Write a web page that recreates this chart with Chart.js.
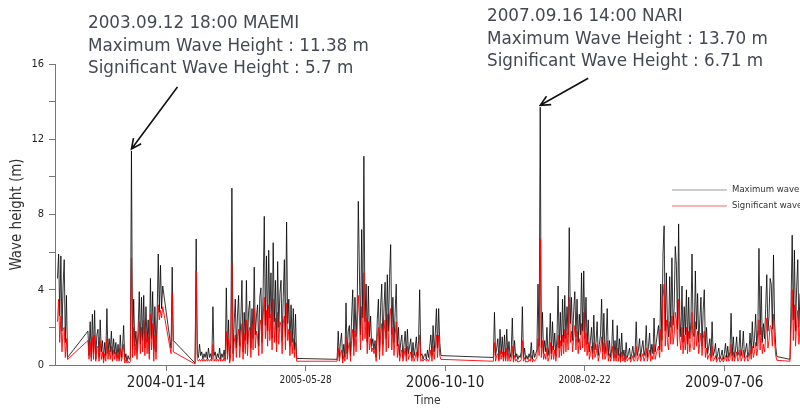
<!DOCTYPE html>
<html>
<head>
<meta charset="utf-8">
<script src="https://cdn.jsdelivr.net/npm/chart.js@4.4.1/dist/chart.umd.min.js"></script>
<style>
  html, body { margin: 0; padding: 0; background: #fff; }
  #wrap { position: relative; width: 800px; height: 408px; }
  .note {
    position: absolute;
    font-family: 'DejaVu Sans', sans-serif;
    font-size: 16.8px;
    line-height: 22.5px;
    color: #444852;
    white-space: nowrap;
  }
</style>
</head>
<body>
<div id="wrap">
  <canvas id="waveChart"></canvas>
  <div class="note" id="note0" style="left:88px; top:11px"></div>
  <div class="note" id="note1" style="left:487px; top:4px"></div>
</div>
<script>
// time axis range and labelled ticks
const axisStart = '2002-12-12';
const axisEnd = '2010-04-04';
const tickLabels = ['2004-01-14', '2005-05-28', '2006-10-10', '2008-02-22', '2009-07-06'];

// records come in blocks sampled every 4 days; each block starts on its own date
const stepDays = 4;
const segmentStarts = ['2002-12-21', '2003-04-09', '2004-02-01', '2004-04-27', '2005-09-18', '2007-04-01', '2010-02-27'];

// maximum wave height (m)
const maxWave = [
  [4.6, 5.9, 2.6, 5.8, 1.8, 4.2, 5.6, 1.2, 3.7, 0.4],
  [1.8, 0.5, 2.3, 0.4, 2.7, 0.6, 2.9, 0.3, 1.6, 1.9, 0.4, 2.4, 0.7, 1.3, 0.3, 1.2, 0.5, 3.0, 0.6, 1.4,
   0.7, 1.8, 0.5, 1.4, 0.6, 1.2, 0.4, 1.1, 0.3, 1.6, 0.4, 0.9, 2.1, 0.3, 0.6, 0.2, 0.5, 0.3, 0.4, 11.38,
   0.8, 3.5, 1.0, 1.8, 0.7, 1.9, 3.9, 1.1, 3.6, 1.3, 3.7, 0.9, 3.1, 1.2, 2.4, 0.6, 4.6, 1.4, 3.9, 0.8,
   3.1, 0.7, 2.6, 5.9, 2.8, 5.3, 3.0, 4.2],
  [0.9, 5.2, 1.3],
  [0.1, 6.7, 0.6, 0.4, 1.1, 0.5, 0.7, 0.3, 0.6, 0.4, 0.7, 0.3, 0.9, 0.4, 0.6, 0.3, 3.1, 0.5, 0.7, 0.3,
   0.6, 0.4, 0.9, 0.3, 0.6, 0.4, 0.8, 0.3, 4.1, 0.6, 2.4, 0.2, 1.2, 9.4, 0.6, 2.2, 3.5, 0.9, 2.6, 3.7,
   1.0, 2.4, 4.5, 0.7, 2.8, 1.3, 4.5, 1.1, 2.9, 3.4, 0.9, 3.0, 1.4, 5.2, 1.6, 2.6, 3.2, 1.0, 3.6, 4.1,
   1.2, 4.0, 7.9, 2.1, 5.8, 1.8, 6.1, 2.5, 4.9, 1.4, 6.5, 2.3, 4.5, 1.2, 5.5, 2.0, 3.8, 4.5, 1.3, 3.6,
   5.6, 1.5, 7.6, 2.2, 3.5, 1.0, 3.2, 1.2, 3.0, 0.8, 2.7, 0.35],
  [0.3, 1.8, 0.4, 1.2, 1.7, 0.3, 1.1, 0.4, 3.3, 0.6, 1.8, 2.1, 0.5, 2.5, 4.0, 1.0, 3.6, 1.5, 3.0, 8.7,
   5.0, 1.6, 7.2, 2.5, 11.1, 2.3, 4.3, 1.2, 4.2, 1.5, 2.6, 1.0, 1.4, 0.8, 1.3, 0.4, 2.4, 3.5, 0.7, 3.1,
   4.3, 1.1, 3.0, 4.4, 1.4, 4.8, 1.8, 4.7, 6.4, 1.6, 3.6, 1.2, 2.8, 4.3, 1.0, 2.0, 0.5, 1.2, 1.6, 0.4,
   1.1, 1.8, 0.5, 1.9, 0.6, 1.0, 1.4, 0.4, 1.2, 0.5, 0.9, 1.5, 0.4, 1.3, 4.0, 0.5, 0.6, 0.3, 0.5, 0.6,
   0.3, 0.8, 0.4, 1.0, 1.6, 0.5, 2.1, 0.7, 1.7, 3.0, 0.9, 3.0, 1.2, 0.5],
  [0.4, 2.8, 0.5, 0.9, 1.4, 0.3, 1.9, 0.6, 1.5, 0.4, 1.6, 0.3, 1.9, 0.5, 1.25, 0.4, 0.7, 2.5, 0.3, 1.3,
   0.4, 0.6, 0.3, 0.5, 0.4, 0.7, 3.1, 0.4, 0.9, 0.3, 0.5, 0.3, 0.6, 0.4, 1.2, 0.3, 0.8, 0.4, 0.6, 0.8,
   4.3, 1.0, 13.70, 0.9, 2.8, 0.6, 1.3, 0.7, 2.0, 0.5, 1.0, 2.75, 0.6, 2.3, 0.8, 1.7, 0.5, 1.4, 4.2, 0.9,
   2.8, 1.0, 3.5, 1.2, 3.7, 1.4, 3.1, 1.6, 7.3, 2.2, 3.6, 1.3, 2.9, 3.9, 1.5, 3.5, 1.2, 2.7, 1.6, 4.9,
   1.8, 5.0, 1.4, 3.6, 1.1, 2.4, 0.7, 1.3, 2.0, 0.6, 2.65, 0.8, 1.2, 2.3, 0.5, 1.1, 1.6, 3.5, 0.7, 2.75,
   0.6, 1.2, 3.0, 0.5, 1.3, 0.4, 0.8, 2.4, 0.4, 1.3, 0.4, 2.1, 0.5, 1.4, 0.3, 1.7, 0.4, 0.8, 0.3, 1.2,
   0.4, 0.6, 0.9, 0.3, 0.6, 1.0, 0.4, 0.7, 2.3, 0.5, 0.8, 1.4, 0.4, 0.9, 1.3, 0.5, 0.8, 2.1, 0.4, 1.0,
   1.7, 0.5, 1.1, 0.6, 2.5, 0.7, 1.2, 1.7, 2.1, 0.8, 4.3, 1.3, 5.9, 7.4, 1.8, 4.9, 2.2, 1.5, 4.7, 2.0,
   5.7, 2.1, 3.0, 6.3, 5.3, 1.9, 7.5, 2.6, 1.5, 4.2, 1.2, 3.1, 1.6, 4.0, 1.1, 3.6, 1.4, 2.3, 5.9, 1.7,
   1.5, 5.0, 1.9, 3.8, 1.2, 2.4, 3.6, 1.0, 2.9, 4.0, 0.9, 2.0, 0.6, 1.0, 1.4, 0.4, 2.3, 0.5, 0.7, 1.15,
   0.3, 0.6, 0.9, 0.3, 0.5, 0.8, 0.3, 0.6, 1.15, 0.4, 1.0, 0.4, 0.7, 2.75, 0.5, 1.5, 0.4, 0.8, 1.5, 0.5,
   0.7, 1.85, 0.5, 0.9, 1.8, 0.4, 0.8, 1.15, 0.4, 0.7, 1.7, 0.6, 2.3, 0.9, 1.4, 2.7, 1.0, 1.9, 6.2, 1.6,
   4.2, 1.2, 2.2, 1.4, 3.0, 4.8, 1.8, 2.6, 4.6, 4.3, 1.9, 5.85, 2.3, 1.0, 0.45],
  [0.3, 3.3, 6.9, 2.4, 6.1, 1.8, 4.1, 5.6, 2.0, 3.8]
];

// significant wave height (m)
const sigWave = [
  [2.3, 3.5, 1.2, 2.6, 0.7, 1.9, 2.0, 0.4, 1.4, 0.3],
  [1.3, 0.3, 1.2, 0.2, 1.5, 0.3, 1.6, 0.2, 0.9, 1.0, 0.2, 1.3, 0.3, 0.7, 0.1, 0.6, 0.2, 1.4, 0.3, 0.8,
   0.3, 1.0, 0.2, 0.8, 0.3, 0.7, 0.2, 0.6, 0.2, 0.9, 0.2, 0.5, 1.1, 0.1, 0.3, 0.1, 0.2, 0.1, 0.2, 5.7,
   0.4, 2.0, 0.5, 1.1, 0.3, 1.2, 2.3, 0.6, 2.0, 0.7, 2.4, 0.5, 1.8, 0.6, 1.5, 0.3, 2.7, 0.8, 2.2, 0.2,
   1.6, 0.3, 1.9, 3.2, 2.4, 2.9, 2.5, 3.1],
  [0.6, 3.8, 0.7],
  [0.05, 5.0, 0.3, 0.2, 0.3, 0.2, 0.3, 0.2, 0.3, 0.2, 0.3, 0.2, 0.3, 0.2, 0.3, 0.2, 1.1, 0.2, 0.3, 0.2,
   0.3, 0.2, 0.4, 0.2, 0.3, 0.2, 0.4, 0.2, 1.8, 0.3, 1.4, 0.1, 0.6, 5.4, 0.2, 1.2, 1.6, 0.4, 1.5, 1.9,
   0.4, 1.4, 2.2, 0.3, 1.7, 0.6, 2.4, 0.5, 1.8, 2.0, 0.4, 2.2, 0.8, 3.0, 0.9, 1.8, 1.5, 0.5, 2.1, 2.4,
   0.6, 2.6, 3.6, 1.4, 2.9, 1.0, 3.2, 1.3, 2.7, 0.8, 3.5, 1.2, 2.5, 0.7, 2.8, 1.1, 2.3, 2.1, 0.6, 2.2,
   2.6, 0.8, 3.3, 1.3, 1.9, 0.5, 1.8, 0.6, 1.4, 0.4, 1.2, 0.2],
  [0.2, 0.9, 0.2, 0.6, 0.8, 0.1, 0.5, 0.2, 1.5, 0.3, 0.9, 1.2, 0.2, 1.3, 1.9, 0.5, 1.8, 0.7, 1.9, 3.7,
   2.6, 0.8, 3.1, 1.3, 4.9, 1.4, 2.5, 0.6, 2.3, 0.8, 1.4, 0.7, 0.9, 0.6, 0.8, 0.2, 1.5, 2.0, 0.3, 1.6,
   2.2, 0.5, 1.7, 2.4, 0.7, 2.7, 0.9, 2.6, 3.0, 0.8, 2.0, 0.5, 1.6, 2.3, 0.4, 1.1, 0.2, 0.6, 0.8, 0.2,
   0.5, 0.9, 0.2, 1.0, 0.3, 0.5, 0.7, 0.2, 0.6, 0.2, 0.4, 0.7, 0.2, 0.6, 1.6, 0.2, 0.3, 0.2, 0.3, 0.3,
   0.2, 0.3, 0.2, 0.4, 0.8, 0.2, 1.0, 0.3, 0.9, 1.6, 0.4, 1.6, 0.5, 0.3],
  [0.2, 1.2, 0.2, 0.5, 0.6, 0.2, 0.8, 0.3, 0.7, 0.2, 0.7, 0.2, 0.9, 0.2, 0.6, 0.2, 0.3, 1.0, 0.15, 0.5,
   0.2, 0.3, 0.15, 0.2, 0.2, 0.3, 1.3, 0.2, 0.4, 0.15, 0.2, 0.15, 0.3, 0.2, 0.5, 0.15, 0.3, 0.2, 0.3, 0.4,
   1.4, 0.5, 6.71, 0.4, 1.3, 0.3, 0.6, 0.3, 0.9, 0.2, 0.4, 1.2, 0.3, 1.0, 0.3, 0.8, 0.2, 0.7, 1.6, 0.4,
   1.3, 0.5, 1.6, 0.6, 1.9, 0.7, 1.7, 0.8, 3.6, 1.2, 1.8, 0.7, 1.5, 2.1, 0.8, 1.8, 0.6, 1.4, 0.8, 2.2,
   0.9, 2.8, 0.7, 1.7, 0.5, 1.2, 0.3, 0.6, 1.0, 0.3, 1.2, 0.4, 0.6, 1.1, 0.2, 0.5, 0.8, 1.5, 0.3, 1.2,
   0.3, 0.5, 1.3, 0.2, 0.6, 0.2, 0.4, 1.0, 0.2, 0.6, 0.2, 0.9, 0.2, 0.6, 0.15, 0.7, 0.2, 0.4, 0.15, 0.5,
   0.2, 0.3, 0.4, 0.15, 0.3, 0.5, 0.2, 0.3, 1.0, 0.2, 0.4, 0.6, 0.2, 0.4, 0.6, 0.2, 0.4, 0.9, 0.2, 0.5,
   0.8, 0.2, 0.5, 0.3, 1.1, 0.3, 0.6, 0.8, 1.0, 0.4, 1.9, 0.7, 3.6, 4.3, 1.0, 2.4, 1.2, 0.8, 2.3, 1.1,
   2.6, 1.1, 1.6, 2.8, 2.4, 1.0, 3.5, 1.4, 0.8, 2.0, 0.6, 1.6, 0.8, 2.0, 0.6, 1.8, 0.7, 1.2, 2.8, 0.9,
   0.8, 2.3, 1.0, 1.8, 0.6, 1.2, 1.7, 0.5, 1.4, 1.8, 0.4, 0.9, 0.3, 0.5, 0.6, 0.2, 1.0, 0.2, 0.3, 0.5,
   0.15, 0.3, 0.4, 0.15, 0.2, 0.4, 0.15, 0.3, 0.5, 0.2, 0.5, 0.2, 0.3, 1.1, 0.2, 0.7, 0.2, 0.4, 0.7, 0.2,
   0.3, 0.8, 0.2, 0.4, 0.8, 0.2, 0.4, 0.5, 0.2, 0.3, 0.8, 0.3, 1.0, 0.4, 0.7, 1.2, 0.5, 0.9, 2.4, 0.8,
   2.0, 0.6, 1.1, 0.7, 1.5, 2.5, 0.9, 1.3, 2.1, 2.0, 1.0, 2.7, 1.2, 0.5, 0.25],
  [0.2, 1.8, 4.0, 1.3, 3.2, 1.0, 2.2, 2.9, 1.1, 2.0]
];

// typhoon events called out above the plot
const eventDates = ['2003-09-12', '2007-09-16'];
const eventTimes = ['18:00', '14:00'];
const eventNames = ['MAEMI', 'NARI'];

const narrow = "'DejaVu Sans Condensed', 'Liberation Sans Narrow', sans-serif";
const dayOf = s => Date.parse(s + 'T00:00:00Z') / 86400000;

function toPoints(series) {
  const pts = [];
  series.forEach((seg, k) => {
    const d0 = dayOf(segmentStarts[k]);
    seg.forEach((v, i) => pts.push({ x: d0 + i * stepDays, y: v }));
  });
  return pts;
}

const maxPoints = toPoints(maxWave);
const sigPoints = toPoints(sigWave);
const valueAt = (pts, date) => pts.find(p => p.x === dayOf(date)).y;

// annotation text
eventDates.forEach((d, k) => {
  const el = document.getElementById('note' + k);
  el.innerHTML =
    d.replace(/-/g, '.') + ' ' + eventTimes[k] + ' ' + eventNames[k] + '<br>' +
    'Maximum Wave Height : ' + valueAt(maxPoints, d).toFixed(2) + ' m<br>' +
    'Significant Wave Height : ' + valueAt(sigPoints, d) + ' m';
});

// arrows to the event peaks and the small legend inside the plot
const overlay = {
  id: 'overlay',
  afterDatasetsDraw(chart) {
    const { ctx, scales: { x, y } } = chart;
    const tails = [[46, -62], [48, -27]];
    ctx.save();
    ctx.strokeStyle = '#111';
    ctx.lineWidth = 1.6;
    eventDates.forEach((d, k) => {
      const hx = x.getPixelForValue(dayOf(d));
      const hy = y.getPixelForValue(valueAt(maxPoints, d)) - 2;
      const tx = hx + tails[k][0], ty = hy + tails[k][1];
      const ang = Math.atan2(hy - ty, hx - tx);
      ctx.beginPath();
      ctx.moveTo(tx, ty);
      ctx.lineTo(hx, hy);
      ctx.moveTo(hx - 11 * Math.cos(ang - 0.45), hy - 11 * Math.sin(ang - 0.45));
      ctx.lineTo(hx, hy);
      ctx.lineTo(hx - 11 * Math.cos(ang + 0.45), hy - 11 * Math.sin(ang + 0.45));
      ctx.stroke();
    });

    const items = [['Maximum wave', '#9a9a9a'], ['Significant wave', '#ee6a6a']];
    ctx.font = '9.5px ' + narrow;
    ctx.textBaseline = 'middle';
    ctx.lineWidth = 1;
    items.forEach((it, k) => {
      const ly = 190 + k * 16;
      ctx.strokeStyle = it[1];
      ctx.beginPath();
      ctx.moveTo(672, ly);
      ctx.lineTo(727, ly);
      ctx.stroke();
      ctx.fillStyle = '#333';
      ctx.fillText(it[0], 732, ly);
    });
    ctx.restore();
  }
};

new Chart(document.getElementById('waveChart'), {
  type: 'line',
  data: {
    datasets: [
      {
        label: 'Maximum wave',
        data: maxPoints,
        borderColor: '#000',
        borderWidth: 0.8,
        pointRadius: 0,
        tension: 0,
        order: 2
      },
      {
        label: 'Significant wave',
        data: sigPoints,
        borderColor: '#ff0000',
        borderWidth: 0.9,
        pointRadius: 0,
        tension: 0,
        order: 1
      }
    ]
  },
  options: {
    responsive: true,
    maintainAspectRatio: false,
    animation: false,
    layout: { padding: { top: 64, right: 0, left: 0, bottom: 0 } },
    plugins: {
      legend: { display: false },
      tooltip: { enabled: false }
    },
    scales: {
      x: {
        type: 'linear',
        min: dayOf(axisStart),
        max: dayOf(axisEnd),
        afterFit: s => { s.height = 43; },
        afterBuildTicks: s => { s.ticks = tickLabels.map(t => ({ value: dayOf(t) })); },
        border: { color: '#777' },
        grid: { drawOnChartArea: false, tickLength: 6, color: '#777' },
        ticks: {
          autoSkip: false,
          maxRotation: 0,
          padding: 3,
          color: '#222',
          font: c => ({ family: narrow, size: c.index % 2 ? 10 : 15 }),
          callback: (v, i) => tickLabels[i]
        },
        title: {
          display: true,
          text: 'Time',
          color: '#333',
          font: { family: narrow, size: 12 },
          padding: { top: 2, bottom: 0 }
        }
      },
      y: {
        min: 0,
        max: 16,
        afterFit: s => { s.width = 55; },
        border: { color: '#777' },
        grid: { drawOnChartArea: false, tickLength: 6, color: '#777' },
        ticks: {
          stepSize: 2,
          padding: 5,
          color: '#222',
          font: { family: narrow, size: 11 },
          callback: v => (v % 4 === 0 ? v : '')
        },
        title: {
          display: true,
          text: 'Wave height (m)',
          color: '#333',
          font: { family: narrow, size: 15 },
          padding: { top: 8, bottom: 0 }
        }
      }
    }
  },
  plugins: [overlay]
});
</script>
</body>
</html>
